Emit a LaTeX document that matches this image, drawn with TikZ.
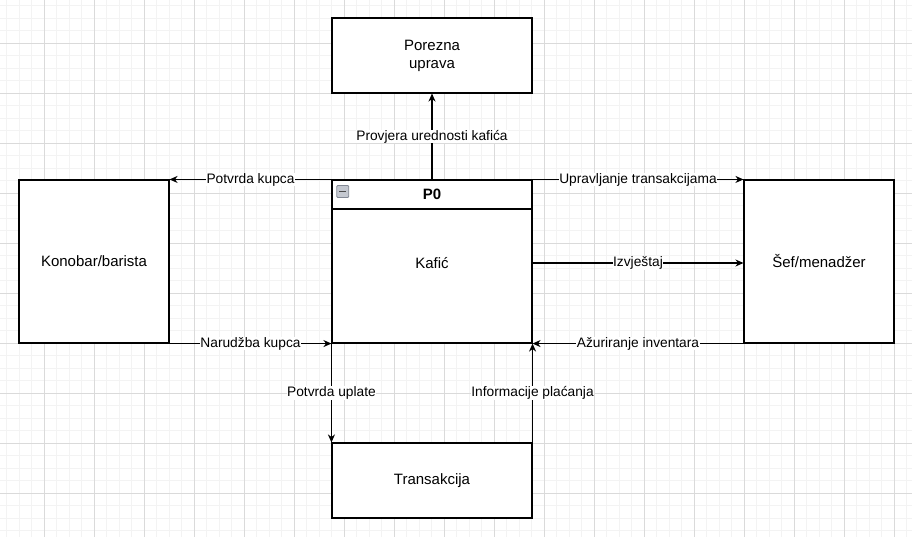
\documentclass[tikz,border=0pt]{standalone}
\usepackage{fontspec}
\setmainfont{Liberation Sans}
\usetikzlibrary{arrows.meta}
\usetikzlibrary{calc}

\definecolor{gridminor}{RGB}{243,243,243}
\definecolor{gridmajor}{RGB}{218,218,218}
\definecolor{iconfill}{RGB}{196,200,208}
\definecolor{iconline}{RGB}{130,136,148}

\tikzset{
  entity/.style={draw, line width=1.1pt, fill=white, inner sep=0pt, align=center, font=\fontsize{15}{18}\selectfont},
  flow/.style={draw, line width=1.1pt, -{Stealth[length=8pt,width=7pt,inset=2.5pt]}},
  lbl/.style={fill=white, inner sep=0.5pt, font=\fontsize{13.75}{16}\selectfont}
}

\begin{document}
\begin{tikzpicture}[x=1pt,y=-1pt]
\useasboundingbox (0,0) rectangle (912,537);

% background grid
\foreach \i in {0,...,72} \draw[gridminor, line width=0.8pt] ({6.5+12.5*\i},0) -- ({6.5+12.5*\i},537);
\foreach \j in {0,...,42} \draw[gridminor, line width=0.8pt] (0,{5.5+12.5*\j}) -- (912,{5.5+12.5*\j});
\foreach \i in {0,...,17} \draw[gridmajor, line width=0.8pt] ({44+50*\i},0) -- ({44+50*\i},537);
\foreach \j in {0,...,10} \draw[gridmajor, line width=0.8pt] (0,{43+50*\j}) -- (912,{43+50*\j});

% boxes
\node[entity, minimum width=200pt, minimum height=75pt] (porezna) at (432,55.5) {Porezna\\uprava};
\node[entity, minimum width=150pt, minimum height=163pt] (konobar) at (94,261.5) {Konobar/barista};
\node[entity, minimum width=150pt, minimum height=163pt] (sef) at (819,261.5) {Šef/menadžer};
\node[entity, minimum width=200pt, minimum height=75pt] (trans) at (432,480.5) {Transakcija};
\node[entity, minimum width=200pt, minimum height=163pt] (kafic) at (432,261.5) {};
\draw[line width=1.1pt] (332,209) -- (532,209);
\node[font=\bfseries\fontsize{15}{18}\selectfont] (p0) at (432,194.5) {P0};
\node[font=\fontsize{15}{18}\selectfont] (kaficlbl) at (432,263) {Kafić};
\node[draw=iconline, fill=iconfill, rounded corners=1pt, minimum size=12pt, inner sep=0pt, line width=0.8pt] (icon) at (342.8,191.5) {};
\draw[line width=1.6pt, black!70] ($(icon.center)+(-3.5,0)$) -- ($(icon.center)+(3.5,0)$);

% flows
\draw[flow] (kafic.north) -- (porezna.south) node[lbl, midway] {Provjera urednosti kafića};
\draw[flow] (kafic.north west) -- (konobar.north east) node[lbl, midway] {Potvrda kupca};
\draw[flow] (kafic.north east) -- (sef.north west) node[lbl, midway] {Upravljanje transakcijama};
\draw[flow] ($(kafic.east)+(0,1.5)$) -- ($(sef.west)+(0,1.5)$) node[lbl, midway] {Izvještaj};
\draw[flow] (konobar.south east) -- (kafic.south west) node[lbl, midway] {Narudžba kupca};
\draw[flow] (sef.south west) -- (kafic.south east) node[lbl, midway] {Ažuriranje inventara};
\draw[flow] (kafic.south west) -- (trans.north west) node[lbl, midway] {Potvrda uplate};
\draw[flow] (trans.north east) -- (kafic.south east) node[lbl, midway] {Informacije plaćanja};

\end{tikzpicture}
\end{document}
